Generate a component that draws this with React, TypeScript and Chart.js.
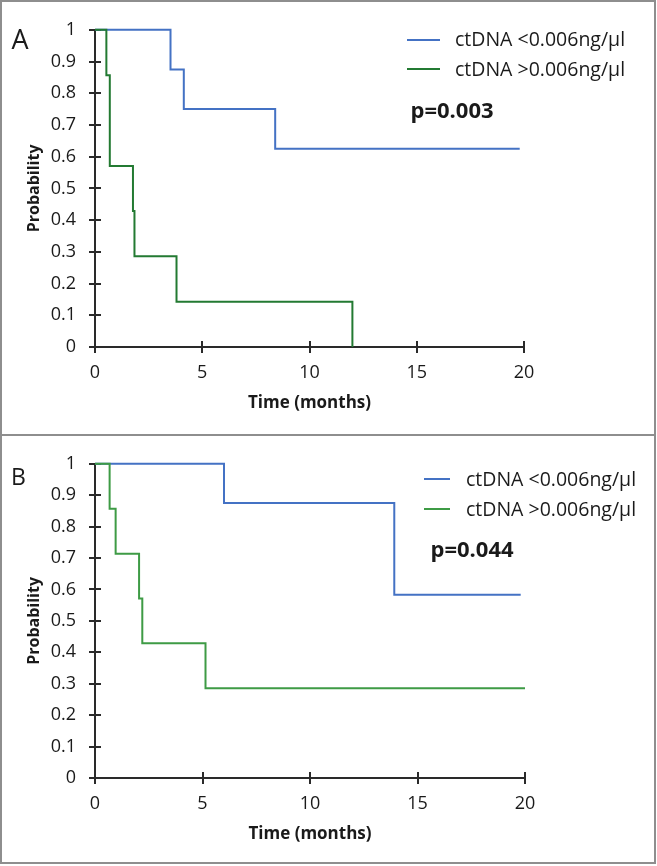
import React, { useEffect, useRef } from "react";
import { Chart, registerables } from "chart.js";

Chart.register(...registerables);

// ---------- data ----------
const seriesLabels = ["ctDNA <0.006ng/µl", "ctDNA >0.006ng/µl"];
const panelLetters = ["A", "B"];
const pValues = ["p=0.003", "p=0.044"];
const xTickStep = 5;
const xMax = 20;
const yTickStep = 0.1;
const xTitle = "Time (months)";
const yTitle = "Probability";

// Panel A
const aLowTimes = [0, 3.52, 4.14, 8.4, 19.8];
const aLowSurv = [1, 0.875, 0.75, 0.625, 0.625];
const aHighTimes = [0, 0.53, 0.69, 1.77, 1.84, 3.8, 12.0];
const aHighSurv = [1, 0.857, 0.571, 0.429, 0.286, 0.143, 0];

// Panel B
const bLowTimes = [0, 6.0, 13.92, 19.8];
const bLowSurv = [1, 0.875, 0.583, 0.583];
const bHighTimes = [0, 0.68, 0.96, 2.05, 2.2, 5.14, 20];
const bHighSurv = [1, 0.857, 0.714, 0.571, 0.429, 0.286, 0.286];

// ---------- styling ----------
const FONT = "'Open Sans', 'DejaVu Sans', sans-serif";
const BLUE = "#4472c4";
const GREEN_A = "#237a32";
const GREEN_B = "#3e9b45";
const AXIS = "#2a2a2a";
const TEXT = "#1a1a1a";
const FRAME = "#8e8e8e";

const toPoints = (t: number[], s: number[]) => t.map((x, i) => ({ x, y: s[i] }));

const decorPlugin = {
  id: "kmDecor",
  beforeDatasetsDraw(chart: any, _a: any, o: any) {
    const ctx = chart.ctx;
    const xs = chart.scales.x;
    const ys = chart.scales.y;
    const x0 = Math.round(xs.getPixelForValue(xs.min));
    const x1 = Math.round(xs.getPixelForValue(xs.max));
    const y0 = Math.round(ys.getPixelForValue(ys.min));
    const y1 = Math.round(ys.getPixelForValue(ys.max));
    const L = 6;
    ctx.save();
    ctx.strokeStyle = AXIS;
    ctx.lineWidth = 2;
    ctx.beginPath();
    ctx.moveTo(x0, y1);
    ctx.lineTo(x0, y0);
    ctx.moveTo(x0, y0);
    ctx.lineTo(x1, y0);
    ys.ticks.forEach((t: any) => {
      const p = Math.round(ys.getPixelForValue(t.value));
      ctx.moveTo(x0 - L, p);
      ctx.lineTo(x0 + L, p);
    });
    xs.ticks.forEach((t: any) => {
      const p = Math.round(xs.getPixelForValue(t.value));
      ctx.moveTo(p, y0 - L);
      ctx.lineTo(p, y0 + L);
    });
    ctx.stroke();
    ctx.restore();
  },
  afterDraw(chart: any, _a: any, o: any) {
    const ctx = chart.ctx;
    ctx.save();
    ctx.textBaseline = "alphabetic";
    ctx.textAlign = "left";
    // panel letter
    ctx.fillStyle = TEXT;
    ctx.font = `${o.letterSize}px ${FONT}`;
    ctx.fillText(o.letter, o.letterX, o.letterCy + 0.357 * o.letterSize);
    // legend
    const ds = chart.data.datasets;
    ds.forEach((d: any, i: number) => {
      const y = o.legendRows[i];
      ctx.strokeStyle = d.borderColor;
      ctx.lineWidth = 2;
      ctx.beginPath();
      ctx.moveTo(o.legendLineX0, Math.round(y));
      ctx.lineTo(o.legendLineX1, Math.round(y));
      ctx.stroke();
      ctx.fillStyle = TEXT;
      ctx.font = `${o.legendSize}px ${FONT}`;
      ctx.fillText(d.label, o.legendTextX, y + 0.357 * o.legendSize);
    });
    // p value
    ctx.font = `bold ${o.pSize}px ${FONT}`;
    ctx.fillStyle = TEXT;
    ctx.fillText(o.pText, o.pX, o.pCy + 0.357 * o.pSize);
    ctx.restore();
  },
};

function makeConfig(
  low: { x: number; y: number }[],
  high: { x: number; y: number }[],
  green: string,
  geo: any,
  decor: any
) {
  return {
    type: "scatter" as const,
    data: {
      datasets: [
        {
          label: seriesLabels[0],
          data: low,
          borderColor: BLUE,
          backgroundColor: BLUE,
          showLine: true,
          stepped: "before",
          pointRadius: 0,
          borderWidth: 2,
          fill: false,
          clip: false,
          order: 1,
        },
        {
          label: seriesLabels[1],
          data: high,
          borderColor: green,
          backgroundColor: green,
          showLine: true,
          stepped: "before",
          pointRadius: 0,
          borderWidth: 2,
          fill: false,
          clip: false,
          order: 0,
        },
      ],
    },
    options: {
      animation: false,
      responsive: false,
      devicePixelRatio: 1,
      events: [],
      layout: { padding: { left: 0, top: geo.top, right: geo.right, bottom: 0 } },
      plugins: {
        legend: { display: false },
        tooltip: { enabled: false },
        kmDecor: decor,
      },
      scales: {
        x: {
          type: "linear",
          min: 0,
          max: xMax,
          grid: { display: false, drawTicks: false },
          border: { display: false },
          ticks: {
            stepSize: xTickStep,
            padding: 15,
            color: TEXT,
            font: { family: FONT, size: 18 },
            maxRotation: 0,
          },
          title: {
            display: true,
            text: xTitle,
            color: TEXT,
            font: { family: FONT, size: 17, weight: "bold" },
            padding: { top: 0, bottom: geo.xTitlePad },
          },
          afterFit: (s: any) => {
            s.height = geo.xHeight;
          },
        },
        y: {
          type: "linear",
          min: 0,
          max: 1,
          grid: { display: false, drawTicks: false },
          border: { display: false },
          ticks: {
            stepSize: yTickStep,
            padding: 19,
            color: TEXT,
            font: { family: FONT, size: 18 },
            callback: (v: number) => String(Math.round(v * 10) / 10),
          },
          title: {
            display: true,
            text: yTitle,
            color: TEXT,
            font: { family: FONT, size: 16, weight: "bold" },
            padding: { top: 25, bottom: 0 },
          },
          afterFit: (s: any) => {
            s.width = 95;
          },
        },
      },
    },
    plugins: [decorPlugin],
  };
}

function Panel(props: { top: number; height: number; cfg: any }) {
  const ref = useRef<HTMLCanvasElement>(null);
  useEffect(() => {
    const chart = new Chart(ref.current as HTMLCanvasElement, props.cfg);
    return () => chart.destroy();
  }, []);
  return (
    <canvas
      ref={ref}
      width={657}
      height={props.height}
      style={{ position: "absolute", left: 0, top: props.top, width: 657, height: props.height }}
    />
  );
}

export default function App() {
  const cfgA = makeConfig(
    toPoints(aLowTimes, aLowSurv),
    toPoints(aHighTimes, aHighSurv),
    GREEN_A,
    { top: 27, right: 133, xHeight: 87, xTitlePad: 21 },
    {
      letter: panelLetters[0],
      letterSize: 27,
      letterX: 11.5,
      letterCy: 39.7,
      legendRows: [39.5, 69],
      legendLineX0: 407,
      legendLineX1: 440,
      legendTextX: 455,
      legendSize: 19.5,
      pText: pValues[0],
      pSize: 22,
      pX: 410.5,
      pCy: 110,
    }
  );
  const cfgB = makeConfig(
    toPoints(bLowTimes, bLowSurv),
    toPoints(bHighTimes, bHighSurv),
    GREEN_B,
    { top: 23, right: 132, xHeight: 88, xTitlePad: 22 },
    {
      letter: panelLetters[1],
      letterSize: 23,
      letterX: 11,
      letterCy: 42.7,
      legendRows: [45, 75],
      legendLineX0: 424,
      legendLineX1: 450,
      legendTextX: 466,
      legendSize: 19.5,
      pText: pValues[1],
      pSize: 22,
      pX: 430.5,
      pCy: 115,
    }
  );
  return (
    <div style={{ position: "absolute", left: 0, top: 0, width: 657, height: 866, background: "#fff" }}>
      <Panel top={0} height={434} cfg={cfgA} />
      <Panel top={434} height={432} cfg={cfgB} />
      <div
        style={{
          position: "absolute",
          left: 0,
          top: 0,
          width: 656,
          height: 864,
          boxSizing: "border-box",
          border: `2px solid ${FRAME}`,
          pointerEvents: "none",
        }}
      />
      <div
        style={{
          position: "absolute",
          left: 0,
          top: 434,
          width: 656,
          height: 2,
          background: FRAME,
          pointerEvents: "none",
        }}
      />
    </div>
  );
}
